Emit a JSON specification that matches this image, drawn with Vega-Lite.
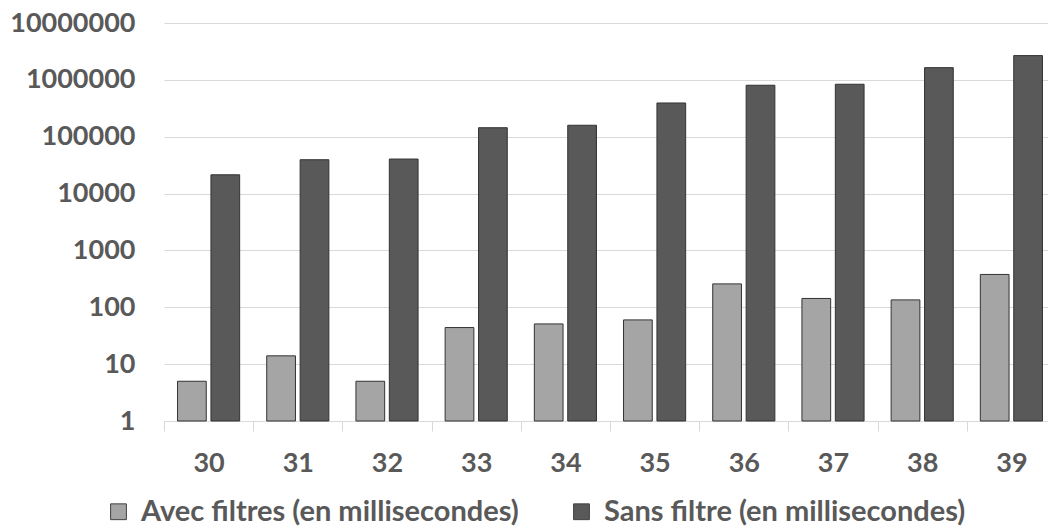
{
  "$schema": "https://vega.github.io/schema/vega-lite/v6.json",
  "autosize": "none",
  "width": 884,
  "height": 398,
  "padding": {"left": 164, "top": 23, "right": 0, "bottom": 108},
  "background": "white",
  "config": {
    "view": {"stroke": null},
    "font": "Lato",
    "text": {"font": "Lato"}
  },
  "data": {
    "values": [
      {"n": "30", "serie": "Avec filtres (en millisecondes)", "ms": 5},
      {"n": "30", "serie": "Sans filtre (en millisecondes)", "ms": 21400},
      {"n": "31", "serie": "Avec filtres (en millisecondes)", "ms": 14},
      {"n": "31", "serie": "Sans filtre (en millisecondes)", "ms": 39400},
      {"n": "32", "serie": "Avec filtres (en millisecondes)", "ms": 5},
      {"n": "32", "serie": "Sans filtre (en millisecondes)", "ms": 40500},
      {"n": "33", "serie": "Avec filtres (en millisecondes)", "ms": 44},
      {"n": "33", "serie": "Sans filtre (en millisecondes)", "ms": 144000},
      {"n": "34", "serie": "Avec filtres (en millisecondes)", "ms": 51},
      {"n": "34", "serie": "Sans filtre (en millisecondes)", "ms": 159000},
      {"n": "35", "serie": "Avec filtres (en millisecondes)", "ms": 60},
      {"n": "35", "serie": "Sans filtre (en millisecondes)", "ms": 392000},
      {"n": "36", "serie": "Avec filtres (en millisecondes)", "ms": 258},
      {"n": "36", "serie": "Sans filtre (en millisecondes)", "ms": 804000},
      {"n": "37", "serie": "Avec filtres (en millisecondes)", "ms": 143},
      {"n": "37", "serie": "Sans filtre (en millisecondes)", "ms": 837000},
      {"n": "38", "serie": "Avec filtres (en millisecondes)", "ms": 135},
      {"n": "38", "serie": "Sans filtre (en millisecondes)", "ms": 1640000},
      {"n": "39", "serie": "Avec filtres (en millisecondes)", "ms": 378},
      {"n": "39", "serie": "Sans filtre (en millisecondes)", "ms": 2670000}
    ]
  },
  "mark": {"type": "bar", "stroke": "#333333", "strokeWidth": 1},
  "encoding": {
    "x": {
      "field": "n",
      "type": "nominal",
      "sort": null,
      "scale": {"range": [0, 892], "paddingInner": 0, "paddingOuter": 0},
      "axis": {
        "title": null,
        "labelAngle": 0,
        "labelFont": "Lato",
        "labelFontWeight": "bold",
        "labelFontSize": 27,
        "labelColor": "#595959",
        "labelPadding": 19,
        "tickBand": "extent",
        "ticks": true,
        "tickSize": 10,
        "tickColor": "#d9d9d9",
        "domain": true,
        "domainColor": "#d9d9d9",
        "grid": false
      }
    },
    "xOffset": {
      "field": "serie",
      "type": "nominal",
      "scale": {"paddingInner": 0.14, "paddingOuter": 0.405}
    },
    "y": {
      "field": "ms",
      "type": "quantitative",
      "scale": {"type": "log", "domain": [1, 10000000], "nice": false},
      "axis": {
        "title": null,
        "values": [1, 10, 100, 1000, 10000, 100000, 1000000, 10000000],
        "format": "d",
        "labelFont": "Lato",
        "labelFontWeight": "bold",
        "labelFontSize": 27,
        "labelColor": "#595959",
        "labelPadding": 29,
        "ticks": false,
        "domain": false,
        "grid": true,
        "gridColor": "#d9d9d9",
        "gridWidth": 1
      }
    },
    "y2": {"datum": 1},
    "color": {
      "field": "serie",
      "type": "nominal",
      "scale": {
        "domain": ["Avec filtres (en millisecondes)", "Sans filtre (en millisecondes)"],
        "range": ["#a5a5a5", "#595959"]
      },
      "legend": {
        "title": null,
        "orient": "none",
        "direction": "horizontal",
        "legendX": -60,
        "legendY": 474,
        "symbolType": "square",
        "symbolSize": 250,
        "symbolStrokeColor": "#404040",
        "symbolStrokeWidth": 1,
        "symbolOpacity": 1,
        "labelFont": "Lato",
        "labelFontWeight": "bold",
        "labelFontSize": 29,
        "labelColor": "#595959",
        "labelOffset": 8,
        "labelLimit": 600,
        "columnPadding": 48
      }
    }
  }
}
